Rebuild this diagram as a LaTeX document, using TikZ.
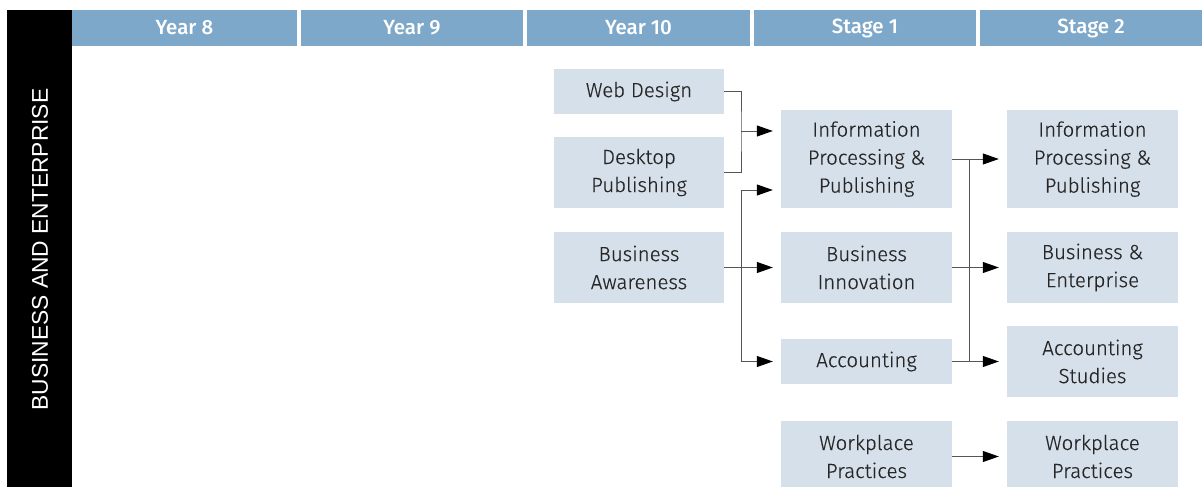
\documentclass[tikz,border=0pt]{standalone}
\usepackage{fontspec}
\setmainfont{Fira Sans}[UprightFont=* Light, UprightFeatures={FakeBold=0.35}, BoldFont=* Medium, BoldFeatures={FakeBold=0}]
\newfontfamily\sidefont{Liberation Sans}
\usetikzlibrary{arrows.meta}

\definecolor{hdrblue}{HTML}{7EA8C9}
\definecolor{boxblue}{HTML}{D6E0EA}
\definecolor{txtgray}{HTML}{262626}
\definecolor{linegray}{HTML}{555555}

\tikzset{
  hdr/.style={fill=hdrblue, text=white, minimum height=36pt, inner sep=0pt,
    font=\fontsize{20.5}{24}\selectfont\bfseries},
  course/.style={fill=boxblue, text=txtgray, minimum width=171pt, inner sep=0pt,
    align=center, font=\fontsize{20.5}{28}\selectfont},
  link/.style={draw=linegray, line width=1pt},
  arr/.style={link, -{Triangle[length=16pt,width=11pt,color=black]}, shorten >=8pt}
}

\begin{document}
\begin{tikzpicture}[x=1pt,y=-1pt]
            \useasboundingbox (0,0) rectangle (1202,487);
            % side bar
            \fill[black] (7,10) rectangle (72,487);
            \node[text=white, rotate=90, font=\sidefont\fontsize{22.8}{26}\selectfont] (side) at (40,249.5) {BUSINESS AND ENTERPRISE};
            % column headers
            \node[hdr, minimum width=225pt] (y8) at (184.5,28) {\raisebox{-1.5pt}{Year 8}};
            \node[hdr, minimum width=222pt] (y9) at (412,28) {\raisebox{-1.5pt}{Year 9}};
            \node[hdr, minimum width=223pt] (y10) at (638.5,28) {\raisebox{-1.5pt}{Year 10}};
            \node[hdr, minimum width=222pt] (st1) at (865,28) {\raisebox{-1.5pt}{Stage 1}};
            \node[hdr, minimum width=222pt] (st2) at (1091,28) {\raisebox{-1.5pt}{Stage 2}};
            % Year 10
            \node[course, minimum width=170pt, minimum height=45pt] (web) at (639,91.5) {Web Design};
            \node[course, minimum width=170pt, minimum height=71pt] (desk) at (639,172.5) {Desktop\\Publishing};
            \node[course, minimum width=170pt, minimum height=71pt] (aware) at (639,267.5) {Business\\Awareness};
            % Stage 1
            \node[course, minimum height=98pt] (info1) at (866.5,159) {Information\\Processing \&\\Publishing};
            \node[course, minimum height=71pt] (innov) at (866.5,267.5) {Business\\Innovation};
            \node[course, minimum height=45pt] (acc1) at (866.5,361.5) {Accounting};
            \node[course, minimum height=71pt] (work1) at (866.5,456.5) {Workplace\\Practices};
            % Stage 2
            \node[course, minimum height=98pt] (info2) at (1092.5,159) {Information\\Processing \&\\Publishing};
            \node[course, minimum height=71pt] (enter) at (1092.5,267.5) {Business \&\\Enterprise};
            \node[course, minimum height=71pt] (acc2) at (1092.5,361.5) {Accounting\\Studies};
            \node[course, minimum height=71pt] (work2) at (1092.5,456.5) {Workplace\\Practices};
            % Year 10 -> Stage 1
            \coordinate (ja) at (741,131);
            \coordinate (jb) at (741,190);
            \draw[link] (web.east) -| (ja) |- (desk.east);
            \draw[arr] (ja) -- (ja -| info1.west);
            \draw[arr] (aware.east) -- (innov.west);
            \draw[link] (jb) -- (jb |- acc1.west);
            \draw[arr] (jb) -- (jb -| info1.west);
            \draw[arr] (jb |- acc1.west) -- (acc1.west);
            % Stage 1 -> Stage 2
            \coordinate (jc) at (969,0);
            \draw[link] (jc |- info1.east) -- (jc |- acc1.east);
            \draw[arr] (info1.east) -- (info2.west);
            \draw[arr] (innov.east) -- (enter.west);
            \draw[arr] (acc1.east) -- (acc2.west);
            \draw[arr] (work1.east) -- (work2.west);
        \end{tikzpicture}
\end{document}
